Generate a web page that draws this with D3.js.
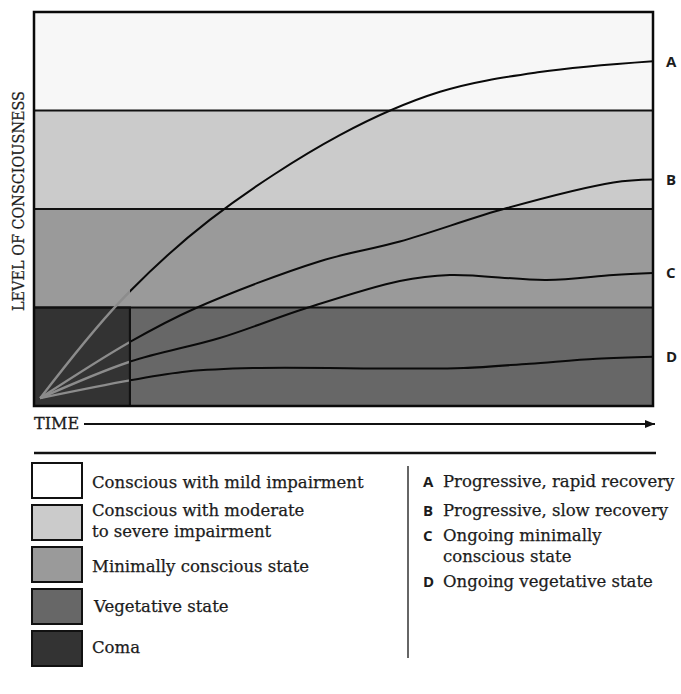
<!DOCTYPE html>
<html><head><meta charset="utf-8">
<script src="https://cdn.jsdelivr.net/npm/d3@7"></script>
<style>body{margin:0;background:#fff}</style>
</head><body>
<svg id="c" width="681" height="694"></svg>
<script>
// ---- data ----
const stateNames = ["Conscious with mild impairment", "Conscious with moderate\nto severe impairment", "Minimally conscious state", "Vegetative state", "Coma"];
const stateColors = ["#f7f7f7", "#cbcbcb", "#9a9a9a", "#676767", "#333333"];
const legendSwatchColors = ["#ffffff", "#cbcbcb", "#9a9a9a", "#676767", "#333333"];
// band ranges in level units [low, high]
const bandLow = [3, 2, 1, 0];
const bandHigh = [4, 3, 2, 1];
const comaEnd = 15.5; // time where coma ends
const seriesKeys = ["A", "B", "C", "D"];
const seriesNames = ["Progressive, rapid recovery", "Progressive, slow recovery", "Ongoing minimally\nconscious state", "Ongoing vegetative state"];
const curveA = [[1,0.08],[13.9,1.06],[28.4,1.89],[49.4,2.75],[65.6,3.19],[81.7,3.39],[100,3.5]];
const curveB = [[1,0.08],[15.5,0.65],[26.0,0.99],[46.2,1.47],[59.1,1.67],[76.4,2.01],[93.6,2.27],[100,2.3]];
const curveC = [[1,0.08],[15.5,0.45],[30.0,0.69],[43.8,0.99],[59.1,1.27],[67.2,1.33],[82.8,1.28],[93.6,1.33],[100,1.35]];
const curveD = [[1,0.08],[15.5,0.26],[24.7,0.35],[35.4,0.385],[59.1,0.38],[69.4,0.385],[80.1,0.43],[90.9,0.48],[100,0.5]];
const curves = [curveA, curveB, curveC, curveD];

// ---- layout ----
const svg = d3.select("#c");
const x = d3.scaleLinear().domain([0, 100]).range([34, 653]);
const y = d3.scaleLinear().domain([0, 4]).range([406, 12]);
const serif = "DejaVu Serif";
const sans = "Open Sans";
const ink = "#1c1c1c";

// bands
svg.selectAll("rect.band").data(bandLow).enter().append("rect")
  .attr("x", x(0)).attr("width", x(100) - x(0))
  .attr("y", (d, i) => y(bandHigh[i])).attr("height", (d, i) => y(d) - y(bandHigh[i]))
  .attr("fill", (d, i) => stateColors[i]);
// coma
svg.append("rect").attr("x", x(0)).attr("y", y(1)).attr("width", x(comaEnd) - x(0)).attr("height", y(0) - y(1))
  .attr("fill", stateColors[4]).attr("stroke", "#111").attr("stroke-width", 2);
// dividers
svg.selectAll("line.div").data([1, 2, 3]).enter().append("line")
  .attr("x1", x(0)).attr("x2", x(100)).attr("y1", d => y(d)).attr("y2", d => y(d))
  .attr("stroke", "#111").attr("stroke-width", 2);

// curves
const line = d3.line().x(d => x(d[0])).y(d => y(d[1])).curve(d3.curveCatmullRom.alpha(0.5));
svg.append("clipPath").attr("id", "outside").append("rect")
  .attr("x", x(comaEnd)).attr("y", 0).attr("width", 700).attr("height", 700);
svg.append("clipPath").attr("id", "inside").append("rect")
  .attr("x", 0).attr("y", 0).attr("width", x(comaEnd)).attr("height", 700);
svg.selectAll("path.cv").data(curves).enter().append("path")
  .attr("d", line).attr("fill", "none").attr("stroke", "#0a0a0a").attr("stroke-width", 2)
  .attr("clip-path", "url(#outside)");
svg.selectAll("path.cvg").data(curves).enter().append("path")
  .attr("d", line).attr("fill", "none").attr("stroke", "#8c8c8c").attr("stroke-width", 2.4)
  .attr("clip-path", "url(#inside)");
// redraw coma right edge
svg.append("line").attr("x1", x(comaEnd)).attr("x2", x(comaEnd)).attr("y1", y(1)).attr("y2", y(0))
  .attr("stroke", "#111").attr("stroke-width", 2);

// outer box
svg.append("rect").attr("x", x(0)).attr("y", y(4)).attr("width", x(100) - x(0)).attr("height", y(0) - y(4))
  .attr("fill", "none").attr("stroke", "#0a0a0a").attr("stroke-width", 2.5);

// end labels
svg.selectAll("text.end").data(seriesKeys).enter().append("text")
  .attr("x", 666).attr("y", (d, i) => y(curves[i][curves[i].length - 1][1]))
  .attr("dy", "0.36em").attr("font-family", sans).attr("font-weight", 700).attr("font-size", 15)
  .attr("fill", ink).text(d => d);

// y axis label
svg.append("text").attr("transform", "translate(24,201) rotate(-90)")
  .attr("text-anchor", "middle").attr("font-family", serif).attr("font-size", 16.5)
  .attr("textLength", 220).attr("lengthAdjust", "spacingAndGlyphs")
  .attr("fill", ink).attr("stroke", ink).attr("stroke-width", 0.25).text("LEVEL OF CONSCIOUSNESS");

// time axis
svg.append("text").attr("x", 34).attr("y", 429).attr("font-family", serif).attr("font-size", 16)
  .attr("fill", ink).attr("stroke", ink).attr("stroke-width", 0.3).text("TIME");
svg.append("defs").append("marker").attr("id", "arr").attr("viewBox", "0 0 10 10")
  .attr("refX", 10).attr("refY", 5).attr("markerWidth", 15).attr("markerHeight", 10)
  .attr("markerUnits", "userSpaceOnUse").attr("orient", "auto")
  .append("path").attr("d", "M0,1 L10,5 L0,9 Z").attr("fill", "#111");
svg.append("line").attr("x1", 84).attr("x2", 655).attr("y1", 424).attr("y2", 424)
  .attr("stroke", "#111").attr("stroke-width", 1.8).attr("marker-end", "url(#arr)");

// separator
svg.append("line").attr("x1", 34).attr("x2", 656).attr("y1", 453).attr("y2", 453)
  .attr("stroke", "#111").attr("stroke-width", 2.5);

// left legend
const swTop = [463, 505, 547, 589, 631];
const textBase = [[488], [516, 537], [572], [612], [653]];
const textX = [92, 92, 92, 94, 92];
const lg = svg.append("g");
lg.selectAll("rect").data(stateNames).enter().append("rect")
  .attr("x", 32).attr("y", (d, i) => swTop[i]).attr("width", 50).attr("height", 35)
  .attr("fill", (d, i) => legendSwatchColors[i]).attr("stroke", "#111").attr("stroke-width", 2);
stateNames.forEach((n, i) => {
  n.split("\n").forEach((ln, j) => {
    lg.append("text").attr("x", textX[i]).attr("y", textBase[i][j])
      .attr("font-family", serif).attr("font-size", 16.5).attr("fill", ink)
      .attr("stroke", ink).attr("stroke-width", 0.25).text(ln);
  });
});

// right legend
svg.append("line").attr("x1", 408).attr("x2", 408).attr("y1", 466).attr("y2", 658)
  .attr("stroke", "#666").attr("stroke-width", 2);
const rBase = [[487], [516], [541, 562], [587]];
seriesKeys.forEach((k, i) => {
  svg.append("text").attr("x", 423).attr("y", rBase[i][0]).attr("font-family", sans)
    .attr("font-weight", 700).attr("font-size", 15).attr("fill", ink).text(k);
  seriesNames[i].split("\n").forEach((ln, j) => {
    svg.append("text").attr("x", 443).attr("y", rBase[i][j]).attr("font-family", serif)
      .attr("font-size", 16.5).attr("fill", ink).attr("stroke", ink).attr("stroke-width", 0.25).text(ln);
  });
});
</script>
</body></html>
